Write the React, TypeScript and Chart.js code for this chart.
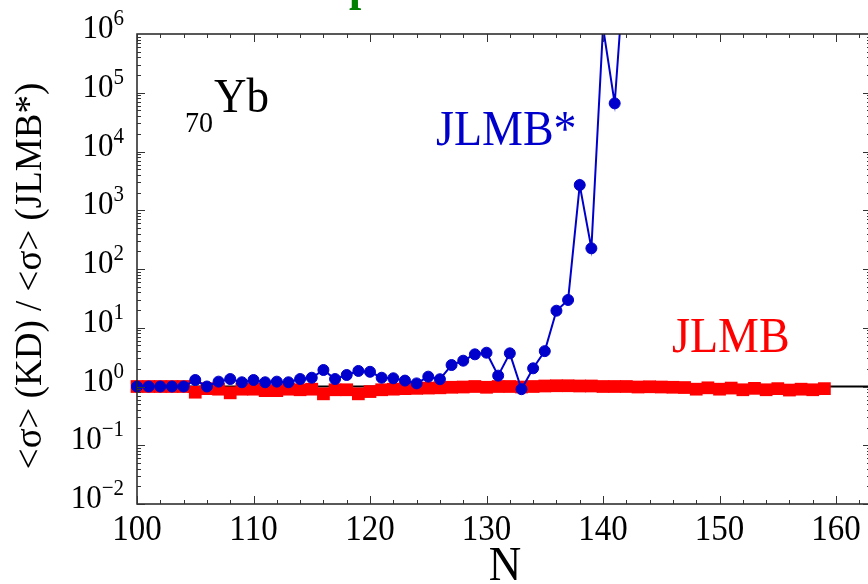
import { useEffect, useRef } from "react";
import { Chart, registerables } from "chart.js";

Chart.register(...registerables);

// ---------- data ----------
const jlmbStarN = [
  100, 101, 102, 103, 104, 105, 106, 107, 108, 109, 110, 111, 112, 113, 114,
  115, 116, 117, 118, 119, 120, 121, 122, 123, 124, 125, 126, 127, 128, 129,
  130, 131, 132, 133, 134, 135, 136, 137, 138, 139, 140, 141, 142,
];
const jlmbStarRatio = [
  1.0, 1.0, 1.0, 1.0, 1.0, 1.29, 1.0, 1.21, 1.34, 1.18, 1.29, 1.18, 1.21, 1.18, 1.34,
  1.41, 1.91, 1.34, 1.57, 1.84, 1.78, 1.41, 1.38, 1.26, 1.13, 1.47, 1.33, 2.32, 2.75, 3.53,
  3.76, 1.53, 3.67, 0.9, 2.04, 4.0, 19.5, 29.7, 2690, 225, 1.3e6, 66000, 3.7e7,
];

const jlmbN = [
  100, 101, 102, 103, 104, 105, 106, 107, 108, 109, 110, 111, 112, 113, 114,
  115, 116, 117, 118, 119, 120, 121, 122, 123, 124, 125, 126, 127, 128, 129,
  130, 131, 132, 133, 134, 135, 136, 137, 138, 139, 140, 141, 142, 143, 144,
  145, 146, 147, 148, 149, 150, 151, 152, 153, 154, 155, 156, 157, 158, 159,
];
const jlmbRatio = [
  1.0, 1.0, 1.0, 1.0, 1.0, 0.8, 0.92, 0.9, 0.78, 0.9, 0.9, 0.85, 0.85, 0.9, 0.88,
  0.9, 0.75, 0.88, 0.88, 0.75, 0.82, 0.88, 0.9, 0.92, 0.93, 0.94, 0.95, 0.97, 0.98, 1.0,
  0.97, 1.0, 1.0, 0.98, 1.0, 1.02, 1.03, 1.03, 1.02, 1.02, 1.0, 1.0, 1.0, 0.98, 0.99,
  0.98, 0.97, 0.96, 0.9, 0.95, 0.9, 0.94, 0.88, 0.93, 0.88, 0.92, 0.87, 0.9, 0.88, 0.92,
];

const unityN = [100, 163];
const unityRatio = [1, 1];

const xMin = 100;
const xMax = 163;
const yMin = 1e-2;
const yMax = 1e6;

const xTickValues = [100, 110, 120, 130, 140, 150, 160];
const xTickLabels = ["100", "110", "120", "130", "140", "150", "160"];
const yTickValues = [1e-2, 1e-1, 1e0, 1e1, 1e2, 1e3, 1e4, 1e5, 1e6];
const yTickExponents = ["−2", "−1", "0", "1", "2", "3", "4", "5", "6"];

const yTitle = "<σ> (KD) / <σ> (JLMB*)";
const xTitle = "N";
const starLabel = "JLMB*";
const plainLabel = "JLMB";
const nucleusZ = "70";
const nucleusSym = "Yb";
const clippedTitle = "p";

const BLUE = "#0000cc";
const RED = "#ff0000";
const GREEN = "#008000";
const SERIF = "'Liberation Serif', 'Times New Roman', serif";

function drawText(
  ctx: CanvasRenderingContext2D,
  text: string,
  x: number,
  y: number,
  font: string,
  color: string,
  align: CanvasTextAlign = "left",
  sy = 1
) {
  ctx.save();
  ctx.translate(x, y);
  ctx.scale(1, sy);
  ctx.font = font;
  ctx.fillStyle = color;
  ctx.textAlign = align;
  ctx.textBaseline = "alphabetic";
  ctx.fillText(text, 0, 0);
  ctx.restore();
}

const overlayPlugin = {
  id: "overlay",
  afterDraw(chart: any) {
    const ctx: CanvasRenderingContext2D = chart.ctx;
    const a = chart.chartArea;
    const xs = chart.scales.x;
    const ys = chart.scales.y;
    ctx.save();

    // frame
    ctx.strokeStyle = "#222";
    ctx.lineWidth = 1.5;
    ctx.strokeRect(a.left, a.top, a.right - a.left, a.bottom - a.top);

    // ticks
    ctx.lineWidth = 1;
    ctx.strokeStyle = "#333";
    ctx.beginPath();
    for (let v = xMin; v <= xMax; v += 2) {
      const px = Math.round(xs.getPixelForValue(v)) + 0.5;
      const len = v % 10 === 0 ? 8 : 4;
      ctx.moveTo(px, a.bottom);
      ctx.lineTo(px, a.bottom - len);
      ctx.moveTo(px, a.top);
      ctx.lineTo(px, a.top + len);
    }
    for (let d = -2; d <= 5; d++) {
      for (let m = 1; m <= 9; m++) {
        const v = m * Math.pow(10, d);
        const py = Math.round(ys.getPixelForValue(v)) + 0.5;
        const len = m === 1 ? 8 : 4;
        ctx.moveTo(a.left, py);
        ctx.lineTo(a.left + len, py);
        ctx.moveTo(a.right, py);
        ctx.lineTo(a.right - len, py);
      }
    }
    ctx.stroke();

    // x tick labels
    xTickValues.forEach((v, i) => {
      drawText(ctx, xTickLabels[i], xs.getPixelForValue(v), 540, `33px ${SERIF}`, "#000", "center", 1.1);
    });

    // y tick labels: 10^n
    yTickValues.forEach((v, i) => {
      const py = ys.getPixelForValue(v);
      const right = 124;
      ctx.font = `21px ${SERIF}`;
      const ew = ctx.measureText(yTickExponents[i]).width;
      drawText(ctx, yTickExponents[i], right, py - 9, `21px ${SERIF}`, "#000", "right", 1.1);
      drawText(ctx, "10", right - ew, py + 4, `31px ${SERIF}`, "#000", "right", 1.1);
    });

    // axis titles
    drawText(ctx, xTitle, 505, 580, `45px ${SERIF}`, "#000", "center", 1.1);
    ctx.save();
    ctx.translate(41, 276);
    ctx.rotate(-Math.PI / 2);
    ctx.font = `37px ${SERIF}`;
    ctx.fillStyle = "#000";
    ctx.textAlign = "center";
    ctx.textBaseline = "alphabetic";
    ctx.fillText(yTitle, 0, 0);
    ctx.restore();

    // annotations
    drawText(ctx, nucleusSym, 214, 112, `45px ${SERIF}`, "#000", "left", 1.1);
    drawText(ctx, nucleusZ, 185, 132, `28px ${SERIF}`, "#000", "left", 1.05);
    drawText(ctx, starLabel, 436, 145, `46px ${SERIF}`, BLUE, "left", 1.08);
    drawText(ctx, plainLabel, 672, 352, `46px ${SERIF}`, RED, "left", 1.08);
    drawText(ctx, clippedTitle, 349, 0, `bold 44px ${SERIF}`, GREEN, "left", 1.1);

    ctx.restore();
  },
};

export default function App() {
  const ref = useRef<HTMLCanvasElement | null>(null);

  useEffect(() => {
    document.body.style.margin = "0";
    const canvas = ref.current;
    if (!canvas) return;
    const chart = new Chart(canvas, {
      type: "line",
      data: {
        datasets: [
          {
            label: starLabel,
            data: jlmbStarN.map((n, i) => ({ x: n, y: jlmbStarRatio[i] })),
            borderColor: BLUE,
            backgroundColor: BLUE,
            borderWidth: 2,
            pointRadius: 5.5,
            pointBorderWidth: 1,
            pointStyle: "circle",
            clip: { left: 10, top: 0, right: 0, bottom: 0 } as any,
          },
          {
            label: plainLabel,
            data: jlmbN.map((n, i) => ({ x: n, y: jlmbRatio[i] })),
            borderColor: RED,
            backgroundColor: RED,
            borderWidth: 7,
            pointRadius: 9,
            pointBorderWidth: 0,
            pointStyle: "rect",
            clip: { left: 10, top: 0, right: 0, bottom: 0 } as any,
          },
          {
            label: "unity",
            data: unityN.map((n, i) => ({ x: n, y: unityRatio[i] })),
            borderColor: "#000",
            borderWidth: 2,
            pointRadius: 0,
          },
        ],
      },
      options: {
        responsive: false,
        animation: false,
        devicePixelRatio: 1,
        layout: { padding: { left: 137, right: 8, top: 34, bottom: 80 } },
        plugins: {
          legend: { display: false },
          tooltip: { enabled: false },
        },
        elements: { line: { tension: 0 } },
        scales: {
          x: { type: "linear", min: xMin, max: xMax, display: false },
          y: { type: "logarithmic", min: yMin, max: yMax, display: false },
        },
      },
      plugins: [overlayPlugin],
    });
    return () => chart.destroy();
  }, []);

  return (
    <div
      style={{
        position: "fixed",
        left: 0,
        top: 0,
        width: 868,
        height: 584,
        overflow: "hidden",
        background: "#fff",
      }}
    >
      <canvas ref={ref} width={880} height={584} style={{ display: "block" }} />
    </div>
  );
}
